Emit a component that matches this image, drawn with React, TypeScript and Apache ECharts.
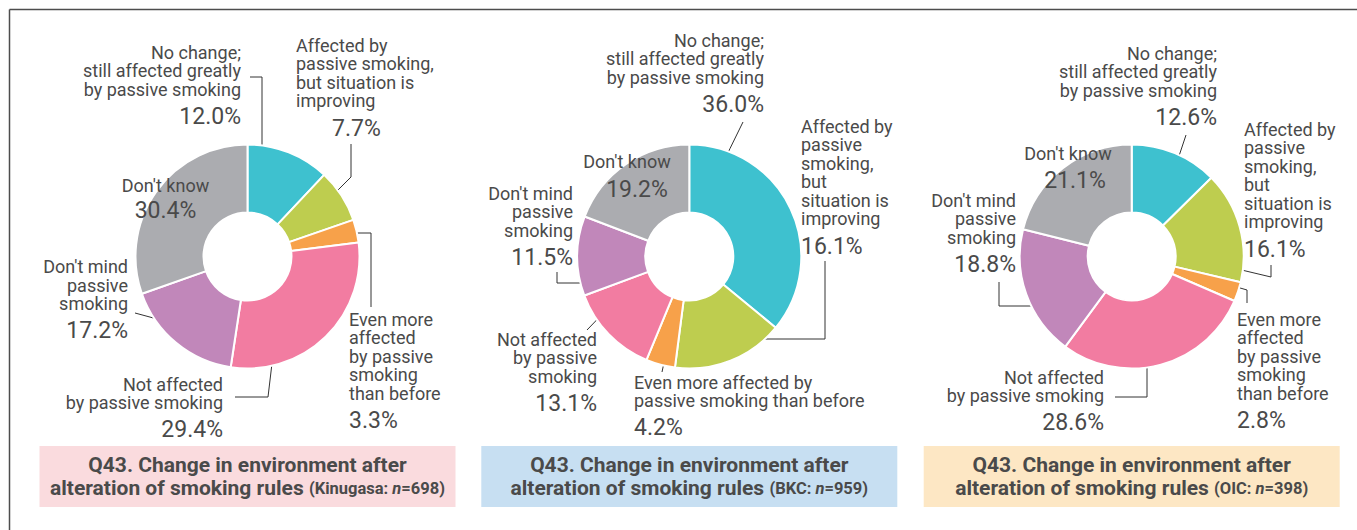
import React, { useEffect, useRef } from "react";
import * as echarts from "echarts";

// ---- data ----
const categories = [
  "No change; still affected greatly by passive smoking",
  "Affected by passive smoking, but situation is improving",
  "Even more affected by passive smoking than before",
  "Not affected by passive smoking",
  "Don't mind passive smoking",
  "Don't know",
];
const kinugasaValues = [12.0, 7.7, 3.3, 29.4, 17.2, 30.4];
const bkcValues = [36.0, 16.1, 4.2, 13.1, 11.5, 19.2];
const oicValues = [12.6, 16.1, 2.8, 28.6, 18.8, 21.1];

const kinugasaLabels = [
  "No change;\nstill affected greatly\nby passive smoking",
  "Affected by\npassive smoking,\nbut situation is\nimproving",
  "Even more\naffected\nby passive\nsmoking\nthan before",
  "Not affected\nby passive smoking",
  "Don't mind\npassive\nsmoking",
  "Don't know",
];
const bkcLabels = [
  "No change;\nstill affected greatly\nby passive smoking",
  "Affected by\npassive\nsmoking,\nbut\nsituation is\nimproving",
  "Even more affected by\npassive smoking than before",
  "Not affected\nby passive\nsmoking",
  "Don't mind\npassive\nsmoking",
  "Don't know",
];
const oicLabels = [
  "No change;\nstill affected greatly\nby passive smoking",
  "Affected by\npassive\nsmoking,\nbut\nsituation is\nimproving",
  "Even more\naffected\nby passive\nsmoking\nthan before",
  "Not affected\nby passive smoking",
  "Don't mind\npassive\nsmoking",
  "Don't know",
];
const campusNames = ["Kinugasa", "BKC", "OIC"];
const campusN = [698, 959, 398];
const titleLine1 = "Q43. Change in environment after";
const titleLine2 = "alteration of smoking rules ";

const sliceColors = ["#3EC1CF", "#BECD4F", "#F7A14A", "#F27CA1", "#C187BA", "#ABACB0"];
const boxColors = ["#FADBDE", "#C7DFF2", "#FDE7C4"];

const allValues = [kinugasaValues, bkcValues, oicValues];
const allLabels = [kinugasaLabels, bkcLabels, oicLabels];

// ---- layout (positions only) ----
const CENTERS = [
  [247.5, 256.5],
  [689.3, 256.5],
  [1131.7, 256.5],
];
type LL = { x: number; y: number; align: string; pts?: number[][]; inside?: boolean; pad?: number };
const LAYOUT: LL[][] = [
  [
    { x: 241, y: 42.7, align: "right", pts: [[262, 174], [262, 77], [250, 77]] },
    { x: 296, y: 35.7, align: "left", pts: [[330, 198], [351, 177], [351, 144]], pad: 36 },
    { x: 349, y: 309.7, align: "left", pts: [[347, 233], [371, 233], [371, 307]] },
    { x: 223, y: 374.7, align: "right", pts: [[275, 338], [268, 397], [235, 397]] },
    { x: 128, y: 257.2, align: "right", pts: [[183, 326], [159, 319.5], [135, 313]] },
    { x: 165.5, y: 175.7, align: "center", inside: true },
  ],
  [
    { x: 764, y: 30.7, align: "right", pts: [[717, 175], [730, 148.5], [743, 122]] },
    { x: 801, y: 116.7, align: "left", pts: [[727, 339], [825, 339], [825, 261]] },
    { x: 634, y: 372.7, align: "left", pts: [[665, 358], [663.5, 365], [662, 372]] },
    { x: 597, y: 329.7, align: "right", pts: [[613, 303], [600, 316.5], [587, 330]] },
    { x: 573, y: 183.7, align: "right", pts: [[589, 283], [557, 283], [557, 272]] },
    { x: 627, y: 151.7, align: "center", inside: true, pad: 20 },
  ],
  [
    { x: 1217, y: 43.7, align: "right", pts: [[1174, 171], [1180, 153], [1186, 135]] },
    { x: 1244, y: 119.7, align: "left", pts: [[1229, 267], [1271, 277], [1271, 265]] },
    { x: 1237, y: 309.7, align: "left", pts: [[1230, 285], [1247, 290], [1247, 303]] },
    { x: 1104, y: 367.7, align: "right", pts: [[1147, 350], [1147, 397], [1115, 397]] },
    { x: 1016, y: 190.7, align: "right", pts: [[1044, 306], [999, 306], [999, 282]] },
    { x: 1068, y: 143.7, align: "center", inside: true, pad: 14 },
  ],
];

const FONT = "Roboto, 'DejaVu Sans', sans-serif";
const TXT = "#4a4a4a";
const NAME_FS = 18;
const NAME_LH = 18.6;
const PCT_FS = 23;

export default function App() {
  const ref = useRef<HTMLDivElement>(null);
  useEffect(() => {
    if (!ref.current) return;
    const chart = echarts.init(ref.current, null, { renderer: "svg" });

    const series = allValues.map((vals, si) => ({
      type: "pie",
      center: CENTERS[si],
      radius: [44, 112],
      startAngle: 90,
      clockwise: true,
      avoidLabelOverlap: false,
      itemStyle: { borderColor: "#fff", borderWidth: 2 },
      label: {
        show: true,
        position: "outside",
        fontFamily: FONT,
        color: TXT,
        formatter: (p: any) => {
          const cfg = LAYOUT[si][p.dataIndex];
          const name = allLabels[si][p.dataIndex];
          const pct = vals[p.dataIndex].toFixed(1) + "%";
          const pStyle = cfg.inside ? (cfg.pad ? "pi" + cfg.pad : "pi") : cfg.pad ? "pp" : "p";
          return `{n|${name}}\n{${pStyle}|${pct}}`;
        },
        rich: {
          n: { fontFamily: FONT, fontSize: NAME_FS, lineHeight: NAME_LH, color: TXT },
          p: { fontFamily: FONT, fontSize: PCT_FS, lineHeight: 36, color: TXT },
          pp: { fontFamily: FONT, fontSize: PCT_FS, lineHeight: 36, color: TXT, padding: [0, 0, 0, 36] },
          pi: { fontFamily: FONT, fontSize: PCT_FS, lineHeight: 32, color: TXT },
          pi20: { fontFamily: FONT, fontSize: PCT_FS, lineHeight: 38, color: TXT, padding: [0, 0, 0, 20] },
          pi14: { fontFamily: FONT, fontSize: PCT_FS, lineHeight: 36, color: TXT, padding: [0, 0, 0, 14] },
        },
      },
      labelLine: { show: true, smooth: false, lineStyle: { color: "#333", width: 1 } },
      labelLayout: (params: any) => {
        const cfg = LAYOUT[si][params.dataIndex];
        const o: any = { x: cfg.x, y: cfg.y, align: cfg.align, verticalAlign: "top" };
        if (cfg.pts) o.labelLinePoints = cfg.pts;
        return o;
      },
      emphasis: { disabled: true },
      data: vals.map((v, i) => ({
        name: categories[i],
        value: v,
        itemStyle: { color: sliceColors[i] },
        labelLine: { show: !LAYOUT[si][i].inside },
      })),
    }));

    const graphics: any[] = [
      { type: "line", shape: { x1: 9.5, y1: 9.5, x2: 1357, y2: 9.5 }, style: { stroke: "#4d4d4d", lineWidth: 1.5 } },
      { type: "line", shape: { x1: 9.5, y1: 9.5, x2: 9.5, y2: 530 }, style: { stroke: "#4d4d4d", lineWidth: 1.5 } },
    ];
    CENTERS.forEach((c, i) => {
      graphics.push({
        type: "rect",
        shape: { x: c[0] - 208, y: 446, width: 416, height: 61 },
        style: { fill: boxColors[i] },
      });
      graphics.push({
        type: "text",
        x: c[0],
        y: 476.5,
        style: {
          text: `{b|${titleLine1}}\n{b|${titleLine2}}{s|(${campusNames[i]}: }{i|n}{s|=${campusN[i]})}`,
          align: "center",
          verticalAlign: "middle",
          rich: {
            b: { fontFamily: FONT, fontSize: 21, fontWeight: "bold", lineHeight: 23.5, fill: TXT },
            s: { fontFamily: FONT, fontSize: 16.5, fontWeight: "bold", lineHeight: 23.5, fill: TXT },
            i: { fontFamily: FONT, fontSize: 16.5, fontWeight: "bold", fontStyle: "italic", lineHeight: 23.5, fill: TXT },
          },
        },
      });
    });

    chart.setOption({
      animation: false,
      backgroundColor: "#ffffff",
      series,
      graphic: graphics,
    } as any);
    return () => chart.dispose();
  }, []);
  return (
    <div
      ref={ref}
      style={{ position: "fixed", left: 0, top: 0, width: 1357, height: 530, background: "#fff" }}
    />
  );
}
